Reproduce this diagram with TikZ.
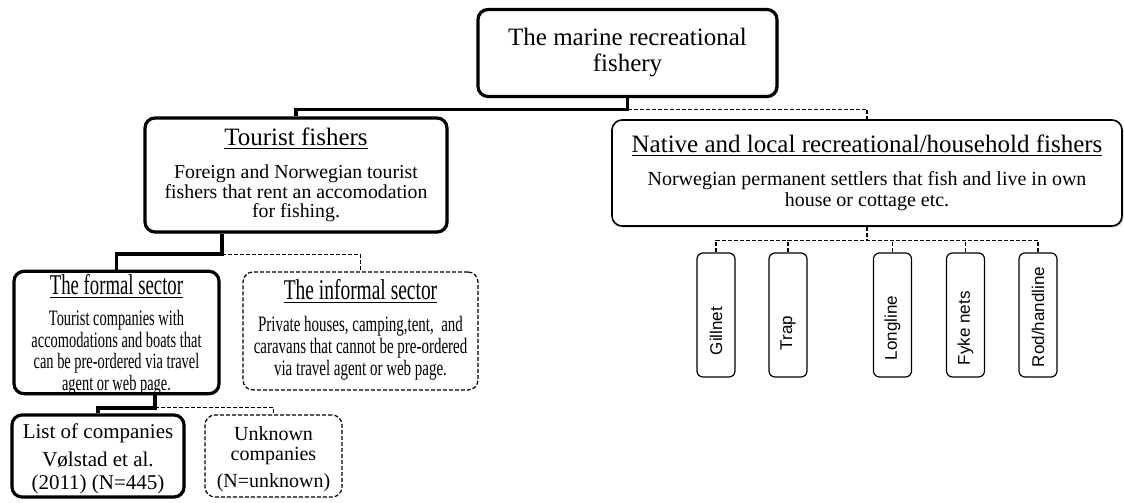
\documentclass[tikz,border=0pt]{standalone}
\usepackage{fontspec}
\setmainfont{Liberation Serif}
\newfontfamily\gearfont{Liberation Sans}
\usepackage{graphicx}
\usetikzlibrary{calc,shadows}

\newcommand{\squeezed}[2][0.72]{\scalebox{#1}[1]{\begin{tabular}{@{}c@{}}#2\end{tabular}}}
\newcommand{\boxtitle}[1]{{\fontsize{12.5}{14}\selectfont\underline{#1}}}
\newcommand{\lowered}[2]{\raisebox{-#1}[\height][\depth]{#2}}

\begin{document}
\begin{tikzpicture}[x=0.5pt,y=-0.5pt,
  mainbox/.style={draw, line width=1.6pt, rounded corners=5pt, fill=white, inner sep=0pt, align=center,
    drop shadow={shadow xshift=0.8pt, shadow yshift=-0.8pt, opacity=0.35}},
  nativebox/.style={mainbox, line width=0.8pt},
  loosebox/.style={draw, line width=0.6pt, dash pattern=on 2pt off 1pt, rounded corners=5pt, fill=white,
    inner sep=0pt, align=center},
  gearbox/.style={draw, line width=0.6pt, rounded corners=3pt, fill=white, inner sep=0pt,
    minimum width=19pt, minimum height=62pt, font=\gearfont\fontsize{8.5}{10}\selectfont},
  solidlink/.style={line width=1.7pt},
  dashlink/.style={line width=0.6pt, dash pattern=on 2pt off 1pt}]
\useasboundingbox (0,0) rectangle (1124,503);

% top level
\node[mainbox, minimum width=149.5pt, minimum height=43.5pt, font=\fontsize{12.5}{13}\selectfont] (top) at (627.5,53)
  {The marine recreational\\ fishery};

% second level
\node[mainbox, minimum width=151pt, minimum height=57pt, font=\fontsize{9.9}{9.9}\selectfont] (tourist) at (296,175)
  {\boxtitle{Tourist fishers}\\[6.5pt] Foreign and Norwegian tourist\\ fishers that rent an accomodation\\ for fishing.};
\node[nativebox, minimum width=255pt, minimum height=53pt, font=\fontsize{10}{10.5}\selectfont] (native) at (867,173)
  {\boxtitle{Native and local recreational/household fishers}\\[6pt] Norwegian permanent settlers that fish and live in own\\ house or cottage etc.};

% sectors
\node[mainbox, minimum width=102.5pt, minimum height=60.5pt, font=\fontsize{11}{10.4}\selectfont] (formal) at (116.5,332.5)
  {\lowered{1.5pt}{\squeezed[0.655]{{\fontsize{14.3}{14}\selectfont\underline{The formal sector}}\\[5pt] Tourist companies with\\ accomodations and boats that\\ can be pre-ordered via travel\\ agent or web page.}}};
\node[loosebox, minimum width=117.5pt, minimum height=59pt, font=\fontsize{11}{11}\selectfont] (informal) at (360.5,331)
  {\squeezed[0.68]{{\fontsize{14.3}{14}\selectfont\underline{The informal sector}}\\[5pt] Private houses, camping,tent, \ and\\ caravans that cannot be pre-ordered\\ via travel agent or web page.}};

% companies
\node[mainbox, minimum width=86pt, minimum height=41pt, font=\fontsize{10.5}{11.5}\selectfont] (list) at (98,456)
  {\lowered{1.5pt}{\begin{tabular}{@{}c@{}}List of companies\\[2.5pt] Vølstad et al.\\ (2011) (N=445)\end{tabular}}};
\node[loosebox, minimum width=68.5pt, minimum height=41pt, font=\fontsize{10}{10.2}\selectfont] (unknown) at (273.5,456)
  {\lowered{2pt}{\begin{tabular}{@{}c@{}}Unknown\\ companies\\[3.5pt] (N=unknown)\end{tabular}}};

% gear types (last field: gap below the label)
\foreach \xpos/\glabel/\gap [count=\i] in {716/Gillnet/11, 788/Trap/13.5, 892.5/Longline/8.5, 965.5/{Fyke nets}/6, 1038/{Rod/handline}/5}
  \node[gearbox] (gear\i) at (\xpos,315) {\rotatebox{90}{\makebox[62pt][l]{\hspace{\gap pt}\glabel}}};

% connectors
\draw[solidlink] (top.south) -- ++(0,11.5) coordinate (topfork) -| (tourist.north);
\draw[dashlink] (topfork) -| (native.north);
\draw[solidlink] ($(tourist.south)+(-74,0)$) -- ++(0,20.5) coordinate (tourfork) -| (formal.north);
\draw[dashlink] (tourfork) -| (informal.north);
\draw[solidlink] ($(formal.south)+(38.5,0)$) -- ++(0,12.5) coordinate (formfork) -| (list.north);
\draw[dashlink] (formfork) -| (unknown.north);
\draw[dashlink] (native.south) -- ++(0,13.5) coordinate (gearbar);
\draw[dashlink] (gear1.north) |- (gearbar) -| (gear5.north);
\foreach \i in {2,3,4}
  \draw[dashlink] (gear\i.north) -- (gear\i.north |- gearbar);
\end{tikzpicture}
\end{document}
